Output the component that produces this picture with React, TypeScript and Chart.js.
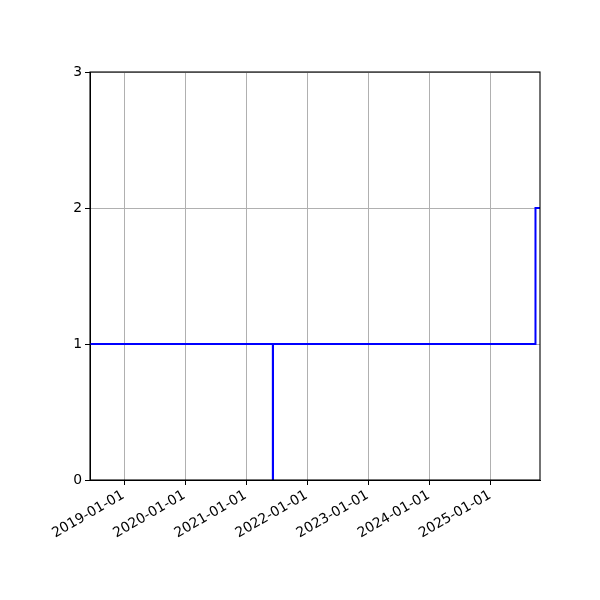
import React, { useEffect, useRef } from "react";
import { Chart, registerables } from "chart.js";

Chart.register(...registerables);

// Step series: dates (UTC) and values
const dates: string[] = ["2018-06-10", "2021-06-07", "2021-06-08", "2025-09-24", "2025-10-21"];
const values: number[] = [1, 0, 1, 2, 2];

// x tick labels (yearly)
const xTickLabels: string[] = [
  "2019-01-01",
  "2020-01-01",
  "2021-01-01",
  "2022-01-01",
  "2023-01-01",
  "2024-01-01",
  "2025-01-01",
];
const yTicks: number[] = [0, 1, 2, 3];

const toMs = (s: string) => {
  const [y, m, d] = s.split("-").map(Number);
  return Date.UTC(y, m - 1, d);
};
const fmt = (ms: number) => {
  const d = new Date(ms);
  const p = (n: number) => String(n).padStart(2, "0");
  return `${d.getUTCFullYear()}-${p(d.getUTCMonth() + 1)}-${p(d.getUTCDate())}`;
};

const frame = {
  id: "frame",
  afterDraw(chart: any) {
    const { ctx, chartArea: a } = chart;
    ctx.save();
    ctx.strokeStyle = "#000";
    ctx.lineWidth = 1.1;
    ctx.strokeRect(a.left, a.top, a.right - a.left, a.bottom - a.top);
    ctx.restore();
  },
};

export default function App() {
  const ref = useRef<HTMLCanvasElement | null>(null);
  useEffect(() => {
    document.body.style.margin = "0";
    const canvas = ref.current!;
    const data = dates.map((d, i) => ({ x: toMs(d), y: values[i] }));
    const font = { family: "DejaVu Sans", size: 13.9 };
    const chart = new Chart(canvas, {
      type: "line",
      data: {
        datasets: [
          {
            data,
            borderColor: "#0000ff",
            borderWidth: 2,
            pointRadius: 0,
            stepped: "before",
            fill: false,
          },
        ],
      },
      options: {
        animation: false,
        responsive: false,
        devicePixelRatio: 1,
        layout: { padding: { left: 0, right: 60, top: 72, bottom: 0 } },
        plugins: { legend: { display: false }, tooltip: { enabled: false } },
        scales: {
          x: {
            type: "linear",
            min: toMs(dates[0]),
            max: toMs(dates[dates.length - 1]),
            afterBuildTicks: (axis: any) => {
              axis.ticks = xTickLabels.map((s) => ({ value: toMs(s) }));
            },
            afterFit: (axis: any) => {
              axis.height = 120;
            },
            ticks: {
              color: "#000",
              font,
              minRotation: 30,
              maxRotation: 30,
              padding: 2,
              labelOffset: -1,
              callback: (v: any) => fmt(Number(v)),
            },
            grid: { color: "#b0b0b0", lineWidth: 1, tickColor: "#000", tickLength: 5 },
            border: { color: "#000", width: 1 },
          },
          y: {
            type: "linear",
            min: yTicks[0],
            max: yTicks[yTicks.length - 1],
            afterBuildTicks: (axis: any) => {
              axis.ticks = yTicks.map((v) => ({ value: v }));
            },
            afterFit: (axis: any) => {
              axis.width = 90;
            },
            ticks: { color: "#000", font, padding: 3, callback: (v: any) => String(v) },
            grid: { color: "#b0b0b0", lineWidth: 1, tickColor: "#000", tickLength: 5 },
            border: { color: "#000", width: 1 },
          },
        },
      },
      plugins: [frame],
    } as any);
    return () => chart.destroy();
  }, []);
  return (
    <div style={{ width: 600, height: 600, background: "#fff" }}>
      <canvas ref={ref} width={600} height={600} style={{ display: "block" }} />
    </div>
  );
}
